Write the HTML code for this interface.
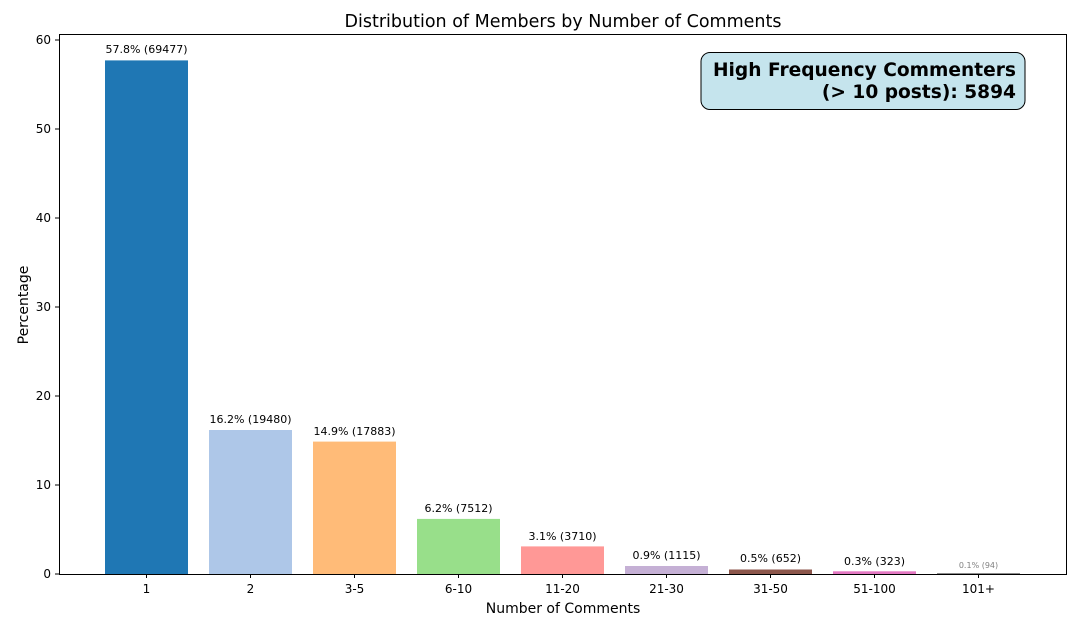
<!DOCTYPE html>
<html><head><meta charset="utf-8"><style>body{margin:0;background:#fff}svg{display:block}text{font-family:"DejaVu Sans","Liberation Sans",sans-serif}</style></head><body>
<svg width="1080" height="630" xmlns="http://www.w3.org/2000/svg">
<rect width="1080" height="630" fill="#fff"/>
<text x="563" y="27" font-size="17.5" text-anchor="middle">Distribution of Members by Number of Comments</text>
<g>
<rect x="105" y="60.4" width="83" height="513.6" fill="#1f77b4"/>
<rect x="209" y="430" width="83" height="144" fill="#aec7e8"/>
<rect x="313" y="441.6" width="83" height="132.4" fill="#ffbb78"/>
<rect x="417" y="518.9" width="83" height="55.1" fill="#98df8a"/>
<rect x="521" y="546.4" width="83" height="27.6" fill="#ff9896"/>
<rect x="625" y="566" width="83" height="8" fill="#c5b0d5"/>
<rect x="729" y="569.5" width="83" height="4.5" fill="#8c564b"/>
<rect x="833" y="571.3" width="83" height="2.7" fill="#e377c2"/>
<rect x="937" y="573.1" width="83" height="0.9" fill="#7f7f7f"/>
</g>
<g font-size="11" text-anchor="middle">
<text x="146.5" y="53">57.8% (69477)</text>
<text x="250.5" y="423">16.2% (19480)</text>
<text x="354.5" y="435">14.9% (17883)</text>
<text x="458.5" y="512">6.2% (7512)</text>
<text x="562.5" y="540">3.1% (3710)</text>
<text x="666.5" y="559">0.9% (1115)</text>
<text x="770.5" y="562">0.5% (652)</text>
<text x="874.5" y="565">0.3% (323)</text>
<text x="978.5" y="568" font-size="8" fill="#808080">0.1% (94)</text>
</g>
<rect x="59.5" y="34.5" width="1007" height="540" fill="none" stroke="#000" stroke-width="1"/>
<g stroke="#000">
<line x1="55" x2="59" y1="574" y2="574"/><line x1="55" x2="59" y1="485" y2="485"/><line x1="55" x2="59" y1="396" y2="396"/><line x1="55" x2="59" y1="307" y2="307"/><line x1="55" x2="59" y1="218" y2="218"/><line x1="55" x2="59" y1="129" y2="129"/><line x1="55" x2="59" y1="40" y2="40"/>
<line x1="146.5" x2="146.5" y1="574" y2="578"/><line x1="250.5" x2="250.5" y1="574" y2="578"/><line x1="354.5" x2="354.5" y1="574" y2="578"/><line x1="458.5" x2="458.5" y1="574" y2="578"/><line x1="562.5" x2="562.5" y1="574" y2="578"/><line x1="666.5" x2="666.5" y1="574" y2="578"/><line x1="770.5" x2="770.5" y1="574" y2="578"/><line x1="874.5" x2="874.5" y1="574" y2="578"/><line x1="978.5" x2="978.5" y1="574" y2="578"/>
</g>
<g font-size="12" text-anchor="end">
<text x="51" y="578">0</text><text x="51" y="489">10</text><text x="51" y="400">20</text><text x="51" y="311">30</text><text x="51" y="222">40</text><text x="51" y="133">50</text><text x="51" y="44">60</text>
</g>
<g font-size="12" text-anchor="middle">
<text x="146.5" y="593">1</text><text x="250.5" y="593">2</text><text x="354.5" y="593">3-5</text><text x="458.5" y="593">6-10</text><text x="562.5" y="593">11-20</text><text x="666.5" y="593">21-30</text><text x="770.5" y="593">31-50</text><text x="874.5" y="593">51-100</text><text x="978.5" y="593">101+</text>
</g>
<text x="563" y="613" font-size="14" text-anchor="middle">Number of Comments</text>
<text transform="translate(28,305) rotate(-90)" font-size="14" text-anchor="middle">Percentage</text>
<rect x="701" y="52.5" width="324" height="57" rx="9" fill="#add8e6" fill-opacity="0.7" stroke="#000" stroke-width="1"/>
<text x="1016" y="76" font-size="18.6" font-weight="bold" text-anchor="end">High Frequency Commenters</text>
<text x="1016" y="98" font-size="18.6" font-weight="bold" text-anchor="end">(&gt; 10 posts): 5894</text>
</svg>
</body></html>
